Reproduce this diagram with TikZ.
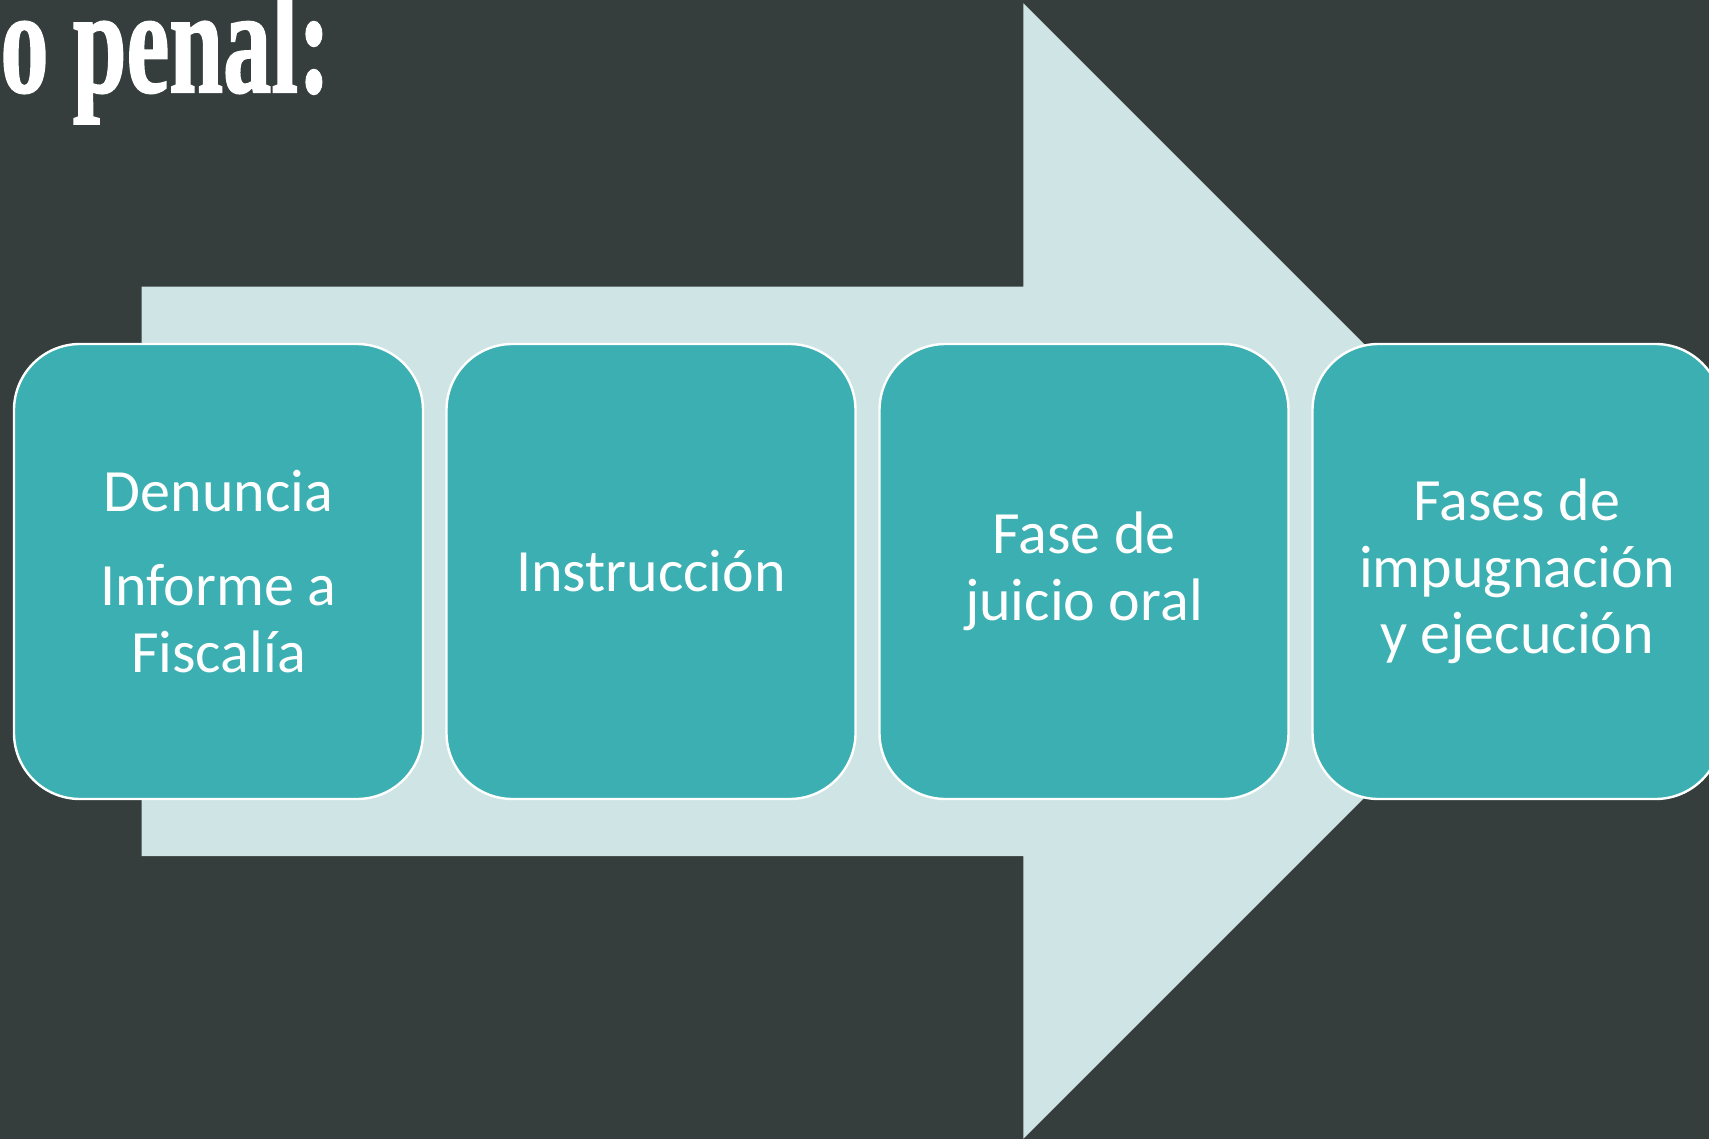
\documentclass[tikz,border=0pt]{standalone}
\usepackage{fontspec}
\setmainfont{Carlito}
\newfontface\titlefont{Liberation Serif Bold}[FakeBold=1.5]
\definecolor{bgc}{RGB}{53,61,61}
\definecolor{arrowc}{RGB}{207,228,229}
\definecolor{boxc}{RGB}{59,175,177}
\begin{document}
\begin{tikzpicture}[x=0.5pt,y=-0.5pt,
  phase/.style={draw=white, line width=1.2pt, fill=boxc, rounded corners=33pt,
    minimum width=204.5pt, minimum height=227.5pt, inner sep=0pt, align=center,
    text=white, font=\fontsize{30}{33.3}\selectfont}]
\useasboundingbox (0,0) rectangle (1709,1139);
\clip (0,0) rectangle (1709,1139);
\fill[bgc] (0,0) rectangle (1709,1139);
% big arrow
\fill[arrowc] (141.7,286.7) -- (1023.3,286.7) -- (1023.3,3.3) -- (1591,571)
  -- (1023.3,1138.7) -- (1023.3,856) -- (141.7,856) -- cycle;
% title
\node[anchor=base west, inner sep=0pt, text=white] (title) at (0,92)
  {\titlefont\fontsize{68}{68}\selectfont\scalebox{0.71}[1.1]{o penal:}};
% phases
\node[phase] (p1) at (218.5,571.5) {Denuncia\\[13.5pt]Informe a\\Fiscalía};
\node[phase] (p2) at (651,571.5) {Instrucción};
\node[phase] (p3) at (1084,571.5) {Fase de\\juicio oral};
\node[phase] (p4) at (1517,571.5) {Fases de\\impugnación\\y ejecución};
\end{tikzpicture}
\end{document}
